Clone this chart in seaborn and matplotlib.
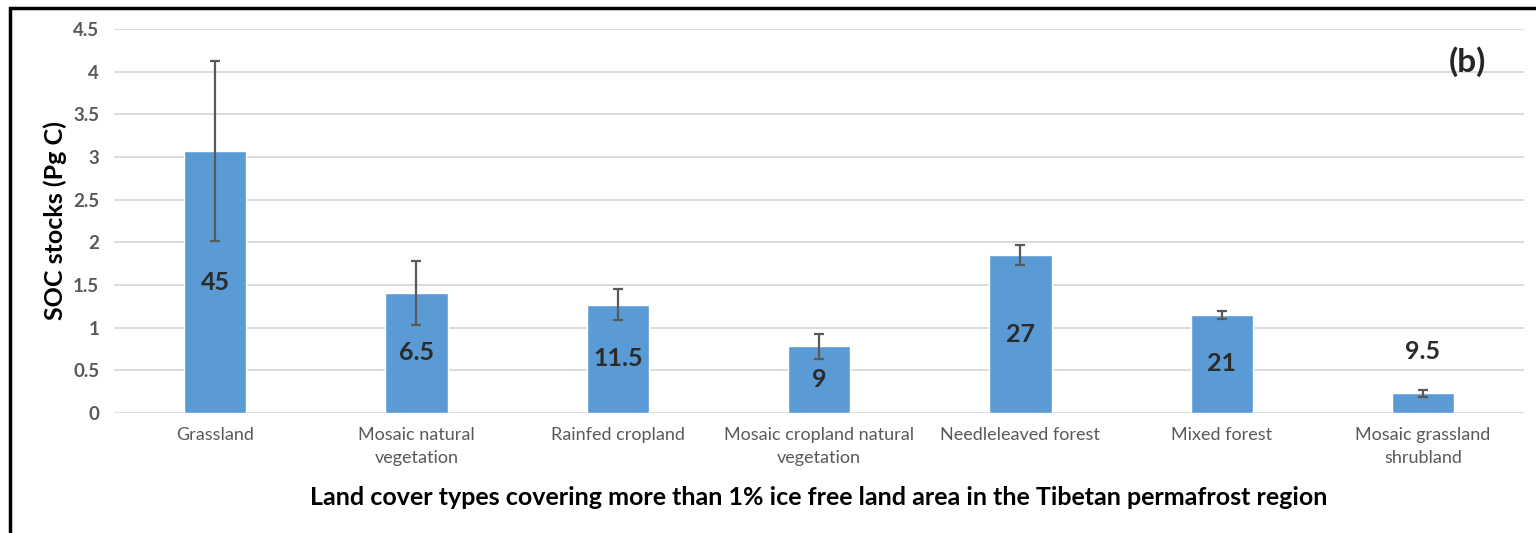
import numpy as np
import pandas as pd
import matplotlib.pyplot as plt
import seaborn as sns
from matplotlib.patches import Rectangle

# Data
land_cover = ["Grassland", "Mosaic natural\nvegetation", "Rainfed cropland",
              "Mosaic cropland natural\nvegetation", "Needleleaved forest",
              "Mixed forest", "Mosaic grassland\nshrubland"]
soc_stock = [3.07, 1.41, 1.27, 0.78, 1.85, 1.15, 0.23]
soc_err = [1.06, 0.375, 0.18, 0.145, 0.12, 0.045, 0.04]
area_pct = ["45", "6.5", "11.5", "9", "27", "21", "9.5"]

df = pd.DataFrame({"cover": land_cover, "soc": soc_stock, "err": soc_err})

sns.set_style("white")
plt.rcParams["font.family"] = ["Lato", "DejaVu Sans"]

fig = plt.figure(figsize=(15.36, 5.33), dpi=100)
ax = fig.add_axes([0.0745, 0.2251, 0.9175, 0.7205])

sns.barplot(data=df, x="cover", y="soc", color="#5B9BD5", width=0.31,
            saturation=1, errorbar=None, ax=ax, zorder=3)
ax.errorbar(np.arange(len(df)), df["soc"], yerr=df["err"], fmt="none",
            ecolor="#595959", elinewidth=1.6, capsize=3.5, capthick=1.6, zorder=4)

# percentage labels
for i, (v, e, t) in enumerate(zip(soc_stock, soc_err, area_pct)):
    y = v / 2 if v > 0.5 else v + e + 0.45
    ax.text(i, y, t, ha="center", va="center", fontsize=18,
            fontweight="bold", color="#2b2b2b", zorder=5)

ax.set_ylim(0, 4.5)
ax.set_xlim(-0.5, len(df) - 0.5)
ax.set_yticks(np.arange(0, 4.51, 0.5))
ax.set_yticklabels(["0", "0.5", "1", "1.5", "2", "2.5", "3", "3.5", "4", "4.5"])
ax.yaxis.grid(True, color="#D9D9D9", linewidth=1.3, zorder=0)
ax.set_axisbelow(True)
for s in ax.spines.values():
    s.set_visible(False)
ax.tick_params(axis="both", length=0)
ax.tick_params(axis="y", pad=11, labelsize=13.5, labelcolor="#595959")
ax.tick_params(axis="x", pad=10, labelsize=13, labelcolor="#595959")
for lbl in ax.get_yticklabels():
    lbl.set_fontweight("bold")
for lbl in ax.get_xticklabels():
    lbl.set_linespacing(1.55)

ax.set_xlabel("Land cover types covering more than 1% ice free land area in the Tibetan permafrost region",
              fontsize=18, fontweight="bold", color="black", labelpad=14)
ax.set_ylabel("SOC stocks (Pg C)", fontsize=18, fontweight="bold", color="black", labelpad=4)

ax.text(0.96, 0.915, "(b)", transform=ax.transAxes, fontsize=24,
        fontweight="bold", ha="center", va="center")

# outer frame
fig.patches.append(Rectangle((10 / 1536, -0.05), 1.05, 1 - 8 / 533 + 0.05,
                             transform=fig.transFigure, fill=False,
                             edgecolor="black", linewidth=2.5))

fig.savefig("out.png", dpi=100)
